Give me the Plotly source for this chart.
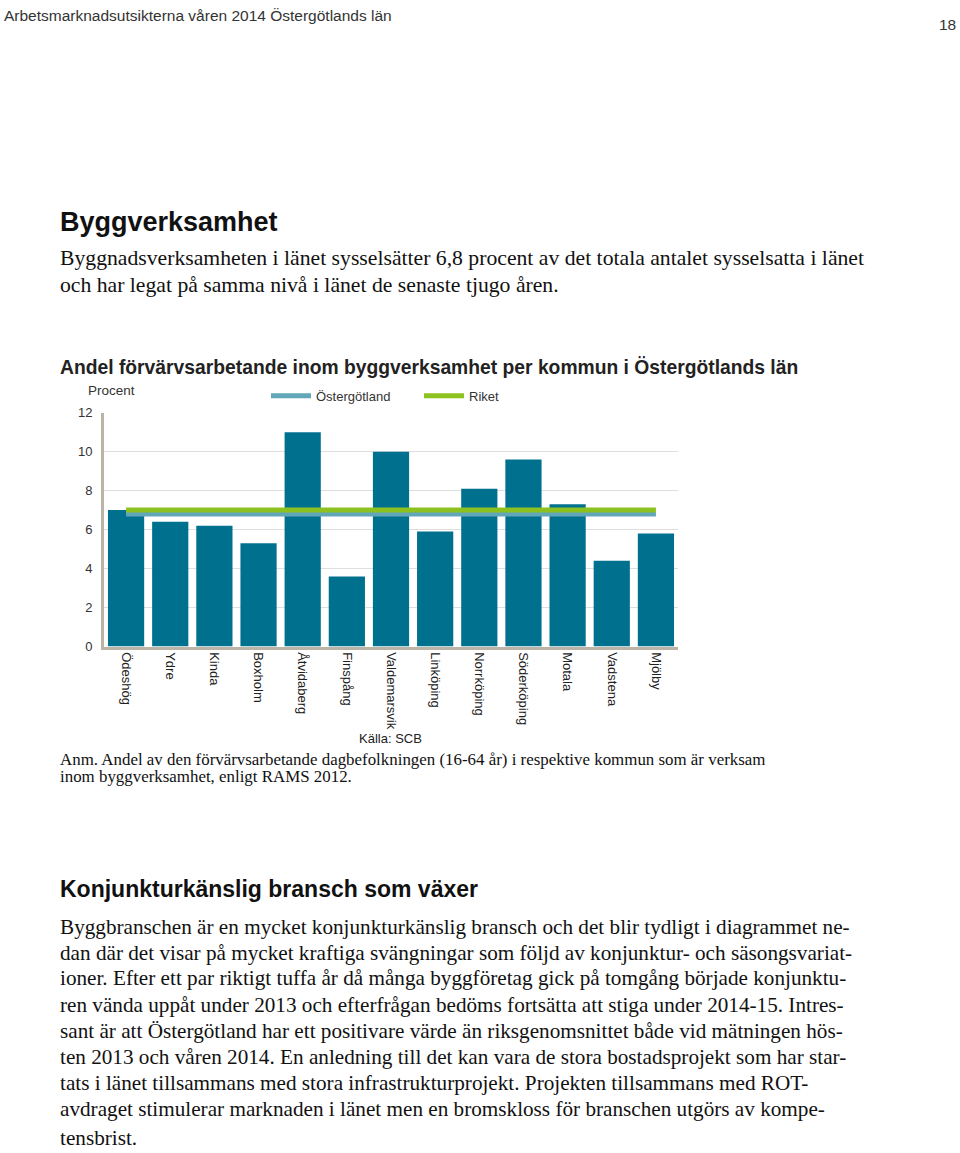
import plotly.graph_objects as go

# ---------------- data ----------------
KOMMUNER = ["Ödeshög", "Ydre", "Kinda", "Boxholm", "Åtvidaberg", "Finspång",
            "Valdemarsvik", "Linköping", "Norrköping", "Söderköping", "Motala",
            "Vadstena", "Mjölby"]
ANDEL = [7.0, 6.4, 6.2, 5.3, 11.0, 3.6, 10.0, 5.9, 8.1, 9.6, 7.3, 4.4, 5.8]
OSTERGOTLAND = 6.8
RIKET = 7.0
Y_TICKS = [0, 2, 4, 6, 8, 10, 12]

HEADER = "Arbetsmarknadsutsikterna våren 2014 Östergötlands län"
PAGE_NO = "18"
HEAD1 = "Byggverksamhet"
PARA1 = ["Byggnadsverksamheten i länet sysselsätter 6,8 procent av det totala antalet sysselsatta i länet",
         "och har legat på samma nivå i länet de senaste tjugo åren."]
CHART_TITLE = "Andel förvärvsarbetande inom byggverksamhet per kommun i Östergötlands län"
Y_UNIT = "Procent"
SOURCE = "Källa: SCB"
NOTE = ["Anm. Andel av den förvärvsarbetande dagbefolkningen (16-64 år) i respektive kommun som är verksam",
        "inom byggverksamhet, enligt RAMS 2012."]
HEAD2 = "Konjunkturkänslig bransch som växer"
PARA2 = ["Byggbranschen är en mycket konjunkturkänslig bransch och det blir tydligt i diagrammet ne-",
         "dan där det visar på mycket kraftiga svängningar som följd av konjunktur- och säsongsvariat-",
         "ioner. Efter ett par riktigt tuffa år då många byggföretag gick på tomgång började konjunktu-",
         "ren vända uppåt under 2013 och efterfrågan bedöms fortsätta att stiga under 2014-15. Intres-",
         "sant är att Östergötland har ett positivare värde än riksgenomsnittet både vid mätningen hös-",
         "ten 2013 och våren 2014. En anledning till det kan vara de stora bostadsprojekt som har star-",
         "tats i länet tillsammans med stora infrastrukturprojekt. Projekten tillsammans med ROT-",
         "avdraget stimulerar marknaden i länet men en bromskloss för branschen utgörs av kompe-",
         "tensbrist."]

# ---------------- layout constants ----------------
W, H = 960, 1153
SANS = "Liberation Sans, Arial, sans-serif"
SERIF = "Liberation Serif, Times New Roman, serif"
BAR_COLOR = "#00708f"
OST_COLOR = "#62a6b9"
RIKET_COLOR = "#8cc11f"
AXIS_COLOR = "#bdb4a8"

PLOT_L, PLOT_R, PLOT_T, PLOT_B = 104, 678, 411, 648


def px(x):
    return x / W


def py(y):
    return 1 - y / H


fig = go.Figure()
fig.add_trace(go.Bar(x=KOMMUNER, y=ANDEL, marker=dict(color=BAR_COLOR, line=dict(width=0)),
                     showlegend=False, hoverinfo="x+y"))
fig.add_trace(go.Scatter(x=[KOMMUNER[0], KOMMUNER[-1]], y=[OSTERGOTLAND, OSTERGOTLAND],
                         mode="lines", name="Östergötland",
                         line=dict(color=OST_COLOR, width=5)))
fig.add_trace(go.Scatter(x=[KOMMUNER[0], KOMMUNER[-1]], y=[RIKET, RIKET],
                         mode="lines", name="Riket",
                         line=dict(color=RIKET_COLOR, width=5)))

ann = []


def text(x, y, s, size, family=SANS, bold=False, color="#222222", xanchor="left"):
    if bold:
        s = "<b>" + s + "</b>"
    ann.append(dict(x=px(x), y=py(y), xref="paper", yref="paper", text=s, showarrow=False,
                    xanchor=xanchor, yanchor="middle", align="left",
                    font=dict(size=size, family=family, color=color)))


text(2, 9, HEADER, 15.5, color="#333333")
text(958, 18, PAGE_NO, 15.5, color="#333333", xanchor="right")
text(58, 218, HEAD1, 27, bold=True, color="#111111")
for i, line in enumerate(PARA1):
    text(58, 254 + i * 28, line, 21.7, family=SERIF, color="#111111")
text(58, 365, CHART_TITLE, 19.3, bold=True, color="#222222")
text(86, 389, Y_UNIT, 13.5, color="#333333")
text(390, 741, SOURCE, 13, color="#222222", xanchor="center")
for i, line in enumerate(NOTE):
    text(58, 762 + i * 18, line, 16.9, family=SERIF, color="#111111")
text(58, 894, HEAD2, 23, bold=True, color="#111111")
p2_y = [932, 958, 984, 1011, 1037, 1064, 1090, 1117, 1146]
for yy, line in zip(p2_y, PARA2):
    text(58, yy, line, 21.2, family=SERIF, color="#111111")

fig.update_layout(
    width=W, height=H,
    margin=dict(l=0, r=0, t=0, b=0),
    paper_bgcolor="white", plot_bgcolor="white",
    bargap=0.18,
    annotations=ann,
    showlegend=True,
    legend=dict(orientation="h", x=px(266), y=py(394), xanchor="left", yanchor="middle",
                font=dict(size=13, family=SANS, color="#333333"),
                bgcolor="rgba(0,0,0,0)", entrywidth=98, itemwidth=40),
    xaxis=dict(domain=[px(PLOT_L), px(PLOT_R)], showline=True, linecolor=AXIS_COLOR, linewidth=3,
               tickangle=90, tickfont=dict(size=13, family=SANS, color="#222222"),
               showgrid=False, ticks=""),
    yaxis=dict(domain=[py(PLOT_B), py(PLOT_T)], range=[0, 12], tickvals=Y_TICKS,
               showline=True, linecolor=AXIS_COLOR, linewidth=3,
               showgrid=True, gridcolor="#dedede", gridwidth=1, zeroline=False,
               tickfont=dict(size=13, family=SANS, color="#333333"), ticks="",
               ticklabelstandoff=6),
)

fig.write_html("out.html", config={"displayModeBar": False},
               post_script="document.body.style.margin='0';")
